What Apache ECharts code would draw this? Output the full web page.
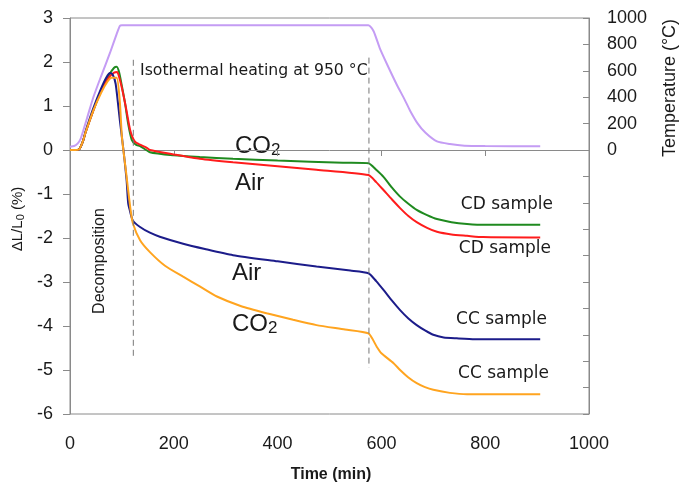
<!DOCTYPE html>
<html>
<head>
<meta charset="utf-8">
<script src="https://cdn.jsdelivr.net/npm/echarts@6/dist/echarts.min.js"></script>
<style>
html,body{margin:0;padding:0;background:#fff;}
#chart{width:699px;height:487px;}
</style>
</head>
<body>
<div id="chart"></div>
<script>
// dilatometry curves, [time (min), dL/L0 (%)]
const cdCO2 = [[0,0],[10,0],[18,0.02],[25,0.2],[30,0.4],[45,0.9],[60,1.35],[75,1.7],[85,1.87],[90,1.89],[95,1.75],[100,1.45],[106,1.07],[112,0.6],[119,0.23],[127,0.12],[135,0.09],[154,-0.05],[200,-0.12],[250,-0.16],[314,-0.2],[400,-0.24],[526,-0.29],[575,-0.3],[590,-0.45],[604,-0.61],[620,-0.85],[636,-1.06],[652,-1.22],[668,-1.36],[688,-1.48],[707,-1.57],[735,-1.64],[765,-1.68],[800,-1.7],[906,-1.7]];
const cdAir = [[0,0],[10,0],[18,0.02],[25,0.2],[30,0.4],[45,0.9],[60,1.35],[75,1.65],[85,1.76],[91,1.77],[96,1.6],[102,1.3],[108,0.95],[116,0.45],[125,0.19],[135,0.12],[148,0.05],[154,0.0],[200,-0.1],[250,-0.2],[314,-0.28],[400,-0.37],[475,-0.45],[575,-0.57],[590,-0.73],[604,-0.91],[620,-1.12],[636,-1.32],[652,-1.5],[668,-1.64],[688,-1.77],[707,-1.86],[735,-1.92],[765,-1.95],[796,-1.98],[906,-1.99]];
const ccAir = [[0,0],[10,0],[18,0.02],[25,0.2],[30,0.42],[45,0.95],[60,1.4],[70,1.65],[77,1.75],[82,1.72],[88,1.5],[96,0.68],[103,0.0],[109,-0.68],[112,-1.2],[115,-1.36],[121,-1.6],[135,-1.75],[154,-1.88],[173,-1.97],[218,-2.13],[260,-2.25],[314,-2.39],[400,-2.53],[475,-2.65],[540,-2.74],[575,-2.8],[590,-2.98],[604,-3.18],[620,-3.42],[636,-3.64],[652,-3.83],[668,-3.98],[684,-4.1],[700,-4.2],[720,-4.26],[745,-4.28],[780,-4.3],[906,-4.3]];
const ccCO2 = [[0,0],[10,0],[18,0.02],[25,0.2],[30,0.4],[45,0.9],[60,1.3],[72,1.55],[80,1.64],[90,1.64],[96,1.1],[100,0.3],[108,-0.5],[116,-1.3],[121,-1.66],[135,-2.05],[154,-2.32],[183,-2.63],[218,-2.88],[250,-3.1],[283,-3.33],[330,-3.55],[379,-3.71],[430,-3.86],[475,-3.98],[530,-4.08],[575,-4.17],[591,-4.47],[600,-4.62],[623,-4.84],[636,-5.0],[652,-5.17],[668,-5.3],[684,-5.39],[700,-5.45],[732,-5.52],[765,-5.55],[906,-5.55]];
// furnace temperature, [time (min), degC]
const temperature = [[0,25],[8,30],[15,50],[20,80],[25,140],[35,270],[45,400],[60,560],[77,735],[90,880],[96,940],[100,945],[575,945],[585,900],[597,770],[612,640],[629,500],[645,380],[655,300],[670,200],[685,130],[707,65],[732,45],[760,33],[800,30],[906,28]];
// dashed dividers: time, top, bottom
const dividerTimes = [122, 576];
const dividerTops = [2.05, 2.1];
const dividerBottoms = [-4.7, -4.95];

const xTicks = {min: 0, max: 1000, step: 200};
const yTicks = {min: -6, max: 3, step: 1};
const tTicks = {min: -2000, max: 1000, step: 200};

const chart = echarts.init(document.getElementById('chart'));

const axisGrey = '#8a8a8a';
const sans = 'Liberation Sans, Arial, sans-serif';
const verd = 'DejaVu Sans, Verdana, sans-serif';

function curve(data, color, yIdx) {
  return {
    type: 'line', data: data, yAxisIndex: yIdx || 0,
    showSymbol: false, smooth: 0.2, silent: true,
    lineStyle: {color: color, width: 2}
  };
}

const dividers = dividerTimes.map((t, i) => ({
  type: 'line', data: [[t, dividerTops[i]], [t, dividerBottoms[i]]],
  showSymbol: false, silent: true,
  lineStyle: {color: '#777', width: 1, type: [6, 4]}
}));

function label(x, y, text, font, size, align) {
  return {
    type: 'text', x: x, y: y, silent: true,
    style: {text: text, fontFamily: font, fontSize: size, fill: '#1a1a1a',
      align: align || 'left', verticalAlign: 'middle'}
  };
}
function gasLabel(x, y) {
  return {
    type: 'text', x: x, y: y, silent: true,
    style: {text: '{a|CO}{b|2}', align: 'left', verticalAlign: 'middle',
      rich: {
        a: {fontFamily: sans, fontSize: 24, fill: '#1a1a1a', lineHeight: 26},
        b: {fontFamily: sans, fontSize: 17, fill: '#1a1a1a', lineHeight: 26, verticalAlign: 'bottom', padding: [6, 0, 0, 0]}
      }}
  };
}

chart.setOption({
  animation: false,
  grid: {left: 70, right: 110, top: 18, bottom: 73, show: true, borderColor: axisGrey, borderWidth: 1},
  xAxis: {
    type: 'value', min: xTicks.min, max: xTicks.max, interval: xTicks.step,
    splitLine: {show: false},
    axisLine: {show: true, lineStyle: {color: axisGrey}},
    axisTick: {show: true, length: 6, lineStyle: {color: axisGrey}},
    axisLabel: {color: '#1a1a1a', fontFamily: sans, fontSize: 18, margin: 21, formatter: v => String(v)}
  },
  yAxis: [{
    type: 'value', min: yTicks.min, max: yTicks.max, interval: yTicks.step,
    splitLine: {show: false},
    axisLine: {show: true, lineStyle: {color: axisGrey}},
    axisTick: {show: true, length: 7, lineStyle: {color: axisGrey}},
    axisLabel: {color: '#1a1a1a', fontFamily: sans, fontSize: 18, margin: 17}
  }, {
    type: 'value', position: 'right', min: tTicks.min, max: tTicks.max, interval: tTicks.step,
    splitLine: {show: false},
    axisLine: {show: true, lineStyle: {color: axisGrey}},
    axisTick: {show: true, inside: true, length: 6, lineStyle: {color: axisGrey}},
    axisLabel: {color: '#1a1a1a', fontFamily: sans, fontSize: 18, margin: 18,
      formatter: v => (v >= 0 ? String(v) : '')}
  }],
  series: [
    curve(temperature, '#c49cf4', 1),
    curve(cdCO2, '#1f8a1f'),
    curve(cdAir, '#ff1c1c'),
    curve(ccAir, '#1c1c8a'),
    curve(ccCO2, '#ffa41f')
  ].concat(dividers),
  graphic: [
    label(140, 71, 'Isothermal heating at 950 °C', verd, 15.7),
    gasLabel(235, 146),
    label(235, 183, 'Air', sans, 24),
    label(232, 273, 'Air', sans, 24),
    gasLabel(232, 324),
    label(553, 205, 'CD sample', verd, 17, 'right'),
    label(551, 249, 'CD sample', verd, 17, 'right'),
    label(547, 320, 'CC sample', verd, 17, 'right'),
    label(549, 374, 'CC sample', verd, 17, 'right'),
    Object.assign(label(100, 261, 'Decomposition', sans, 16, 'center'), {rotation: Math.PI / 2}),
    {
      type: 'text', x: 18, y: 219, rotation: Math.PI / 2, silent: true,
      style: {text: '{a|ΔL/L}{b|0}{a| (%)}', align: 'center', verticalAlign: 'middle',
        rich: {
          a: {fontFamily: sans, fontSize: 15, fill: '#1a1a1a', lineHeight: 17},
          b: {fontFamily: sans, fontSize: 11, fill: '#1a1a1a', lineHeight: 17, verticalAlign: 'bottom', padding: [4, 0, 0, 0]}
        }}
    },
    Object.assign(label(670, 88, 'Temperature (°C)', sans, 18, 'center'), {rotation: Math.PI / 2}),
    {
      type: 'text', x: 331, y: 475, silent: true,
      style: {text: 'Time (min)', fontFamily: sans, fontSize: 16, fontWeight: 'bold', fill: '#1a1a1a', align: 'center', verticalAlign: 'middle'}
    }
  ]
});
</script>
</body>
</html>
